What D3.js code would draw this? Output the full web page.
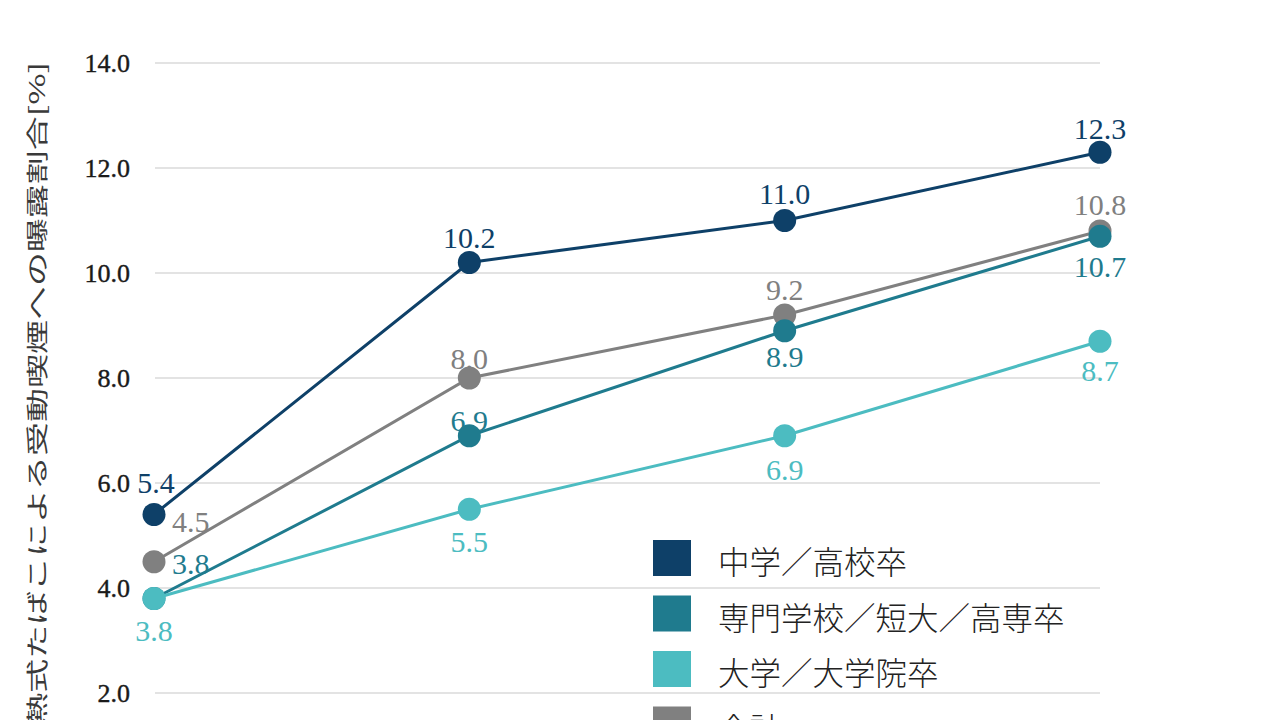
<!DOCTYPE html>
<html>
<head>
<meta charset="utf-8">
<script src="https://cdn.jsdelivr.net/npm/d3@7"></script>
<style>
  html, body { margin: 0; padding: 0; background: #fff; overflow: hidden; }
</style>
</head>
<body>
<svg id="chart" width="1280" height="720"></svg>
<script>
// Data
const categories = ["A", "B", "C", "D"];
const seriesNames = ["中学／高校卒", "専門学校／短大／高専卒", "大学／大学院卒", "合計"];
const juniorHigh = [5.4, 10.2, 11.0, 12.3];
const vocational = [3.8, 6.9, 8.9, 10.7];
const university = [3.8, 5.5, 6.9, 8.7];
const total = [4.5, 8.0, 9.2, 10.8];
const yTicks = [2, 4, 6, 8, 10, 12, 14];
const series = [juniorHigh, vocational, university, total];

// Styling / layout
const colors = ["#0e4068", "#1f7b8e", "#4cbcc1", "#808080"];
// label offsets from the marker centre (dx, baseline dy)
const labelDx = [[2, 0, 0, 0], [18, 0, 0, 0], [0, 0, 0, 0], [18, 0, 0, 0]];
const labelDy = [[-22, -15, -17, -13], [-25, -5, 36, 41], [42, 43, 44, 40], [-30, -9, -15, -16]];

const svg = d3.select("#chart");
const serif = "'Liberation Serif', 'DejaVu Serif', serif";
const cjk = "'Noto Sans CJK JP', 'Noto Sans', sans-serif";

const x = d3.scalePoint().domain(categories).range([154, 1100]);
const y = d3.scaleLinear().domain([0, 14]).range([798, 63]);

// Gridlines
svg.append("g")
  .selectAll("line")
  .data(yTicks)
  .enter()
  .append("line")
  .attr("x1", 155)
  .attr("x2", 1100)
  .attr("y1", d => y(d))
  .attr("y2", d => y(d))
  .attr("stroke", "#dadada")
  .attr("stroke-width", 1.5);

// Y axis tick labels
const yAxis = svg.append("g")
  .attr("transform", "translate(130,0)")
  .call(d3.axisLeft(y).tickValues(yTicks).tickSize(0).tickPadding(0).tickFormat(d3.format(".1f")));
yAxis.select(".domain").remove();
yAxis.selectAll("text")
  .attr("dy", "0.34em")
  .style("font-family", serif)
  .style("font-size", "26px")
  .style("fill", "#1a1a1a")
  .style("stroke", "#1a1a1a")
  .style("stroke-width", 0.4);

// Y axis title (narrow, rotated)
svg.append("text")
  .attr("transform", "translate(36,0) rotate(-90) scale(1,0.62)")
  .attr("x", -62)
  .attr("y", 0)
  .attr("text-anchor", "end")
  .attr("dominant-baseline", "central")
  .style("font-family", cjk)
  .style("font-size", "34px")
  .style("fill", "#3a3a3a")
  .text("加熱式たばこによる受動喫煙への曝露割合[%]");

// Legend
const legend = svg.append("g").attr("transform", "translate(653,540)");
seriesNames.forEach((name, i) => {
  legend.append("rect")
    .attr("x", 0)
    .attr("y", i * 55.5)
    .attr("width", 38)
    .attr("height", 36)
    .attr("fill", colors[i]);
  legend.append("text")
    .attr("x", 65)
    .attr("y", i * 55.5 + 20)
    .attr("dominant-baseline", "central")
    .style("font-family", cjk)
    .style("font-size", "31.5px")
    .style("font-weight", 300)
    .style("fill", "#222")
    .text(name);
});

// Lines + markers
const drawOrder = [3, 1, 2, 0];
const line = d3.line().x((d, i) => x(categories[i])).y(d => y(d));
drawOrder.forEach(s => {
  const g = svg.append("g");
  g.append("path")
    .datum(series[s])
    .attr("fill", "none")
    .attr("stroke", colors[s])
    .attr("stroke-width", 3)
    .attr("d", line);
  g.selectAll("circle")
    .data(series[s])
    .enter()
    .append("circle")
    .attr("cx", (d, i) => x(categories[i]))
    .attr("cy", d => y(d))
    .attr("r", 11.5)
    .attr("fill", colors[s]);
});

// Data labels
series.forEach((vals, s) => {
  svg.append("g")
    .selectAll("text")
    .data(vals)
    .enter()
    .append("text")
    .attr("x", (d, i) => x(categories[i]) + labelDx[s][i])
    .attr("y", (d, i) => y(d) + labelDy[s][i])
    .attr("text-anchor", (d, i) => labelDx[s][i] > 5 ? "start" : "middle")
    .style("font-family", serif)
    .style("font-size", "30px")
    .style("fill", colors[s])
    .text(d => d3.format(".1f")(d));
});
</script>
</body>
</html>
